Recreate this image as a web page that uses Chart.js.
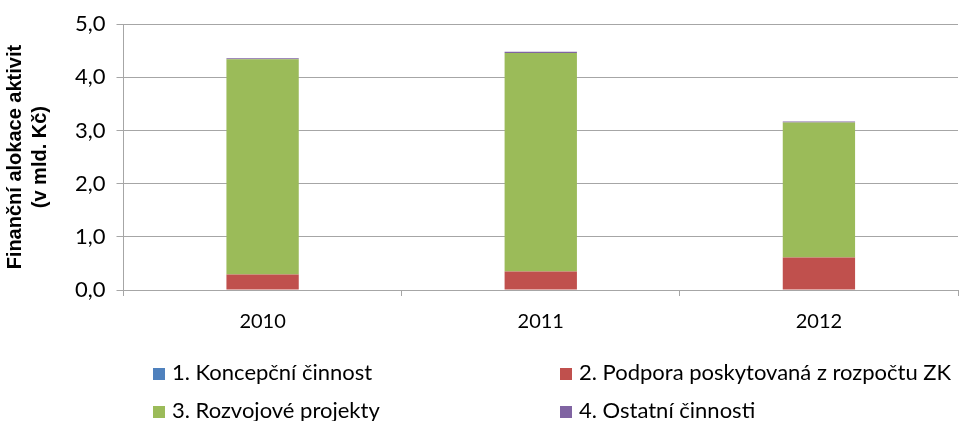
<!DOCTYPE html>
<html>
<head>
<meta charset="utf-8">
<script src="https://cdn.jsdelivr.net/npm/chart.js@4"></script>
<style>
body { margin: 0; background: #fff; }
#wrap { position: relative; width: 961px; height: 421px; overflow: hidden; }
#legend { position: absolute; left: 0; top: 0; width: 961px; font-family: Lato, sans-serif; font-size: 22px; line-height: 26px; color: #000; }
.item { position: absolute; white-space: nowrap; }
.box { display: inline-block; width: 12px; height: 12px; margin-right: 7px; vertical-align: 0px; }
</style>
</head>
<body>
<div id="wrap">
<canvas id="chart" width="961" height="421"></canvas>
<div id="legend"></div>
</div>
<script>
// years on the x axis
var years = ['2010', '2011', '2012'];
// values in mld. Kč, stacked
var koncepcni = [0.01, 0.01, 0.01];
var podpora = [0.28, 0.34, 0.60];
var rozvojove = [4.05, 4.11, 2.54];
var ostatni = [0.02, 0.02, 0.02];

var names = ['1. Koncepční činnost', '2. Podpora poskytovaná z rozpočtu ZK', '3. Rozvojové projekty', '4. Ostatní činnosti'];
var colors = ['#4F81BD', '#C0504D', '#9BBB59', '#8064A2'];
var series = [koncepcni, podpora, rozvojove, ostatni];

var datasets = [];
for (var i = 0; i < series.length; i++) {
	datasets.push({
		label: names[i],
		data: series[i],
		backgroundColor: colors[i],
		borderWidth: 0,
		barPercentage: 0.26,
		categoryPercentage: 1.0
	});
}

var font = 'Lato, sans-serif';

var config = {
	type: 'bar',
	data: { labels: years, datasets: datasets },
	options: {
		responsive: false,
		animation: false,
		layout: { padding: { top: 22, right: 3, bottom: 73, left: 3 } },
		plugins: { legend: { display: false }, tooltip: { enabled: false } },
		scales: {
			x: {
				stacked: true,
				grid: { display: true, offset: true, drawOnChartArea: false, color: '#a6a6a6', tickLength: 6 },
				border: { color: '#a6a6a6', width: 1 },
				ticks: { color: '#000', font: { family: font, size: 20 }, padding: 14 }
			},
			y: {
				stacked: true,
				min: 0,
				max: 5,
				grid: { color: '#a6a6a6', tickLength: 7 },
				border: { color: '#a6a6a6' },
				ticks: {
					stepSize: 1,
					color: '#000',
					font: { family: font, size: 22 },
					padding: 11,
					callback: function(v) { return v.toFixed(1).replace('.', ','); }
				},
				title: {
					display: true,
					text: ['Finanční alokace aktivit', '(v mld. Kč)'],
					color: '#000',
					font: { family: 'Liberation Sans, sans-serif', size: 20, weight: 'bold', lineHeight: 1.25 },
					padding: { top: 0, bottom: 11 }
				}
			}
		}
	}
};

var myChart = new Chart(document.getElementById('chart').getContext('2d'), config);

// legend in two columns, like the original
var pos = [[153, 359], [560, 359], [153, 397], [560, 397]];
var legend = document.getElementById('legend');
for (var i = 0; i < names.length; i++) {
	var d = document.createElement('div');
	d.className = 'item';
	d.style.left = pos[i][0] + 'px';
	d.style.top = pos[i][1] + 'px';
	d.innerHTML = '<span class="box" style="background:' + colors[i] + '"></span>' + names[i];
	legend.appendChild(d);
}
</script>
</body>
</html>
